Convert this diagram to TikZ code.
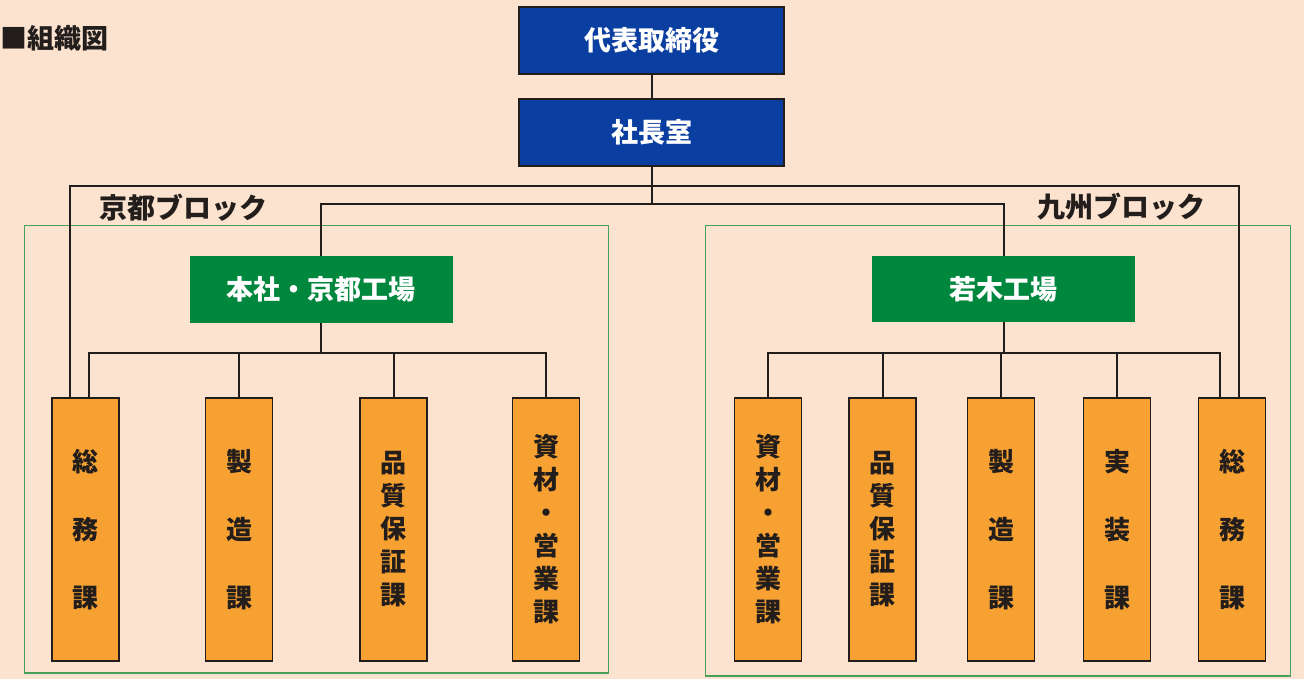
\documentclass[tikz,border=0pt]{standalone}
\usepackage{fontspec}
\newfontfamily\jp{Noto Sans CJK JP}
\definecolor{bgpeach}{RGB}{252,227,208}
\definecolor{boxblue}{RGB}{10,62,160}
\definecolor{boxgreen}{RGB}{0,135,62}
\definecolor{boxorange}{RGB}{247,161,50}
\definecolor{frameline}{RGB}{70,160,90}
\definecolor{ink}{RGB}{35,30,28}
\begin{document}
\begin{tikzpicture}[x=1pt,y=-1pt,
  bluebox/.style={draw=ink, line width=1.6pt, fill=boxblue, text=white, minimum width=265pt, minimum height=67pt, inner sep=0pt, font=\jp\bfseries\fontsize{27}{30}\selectfont},
  greenbox/.style={fill=boxgreen, text=white, minimum width=263pt, minimum height=66pt, inner sep=0pt, font=\jp\bfseries\fontsize{27}{30}\selectfont},
  orangebox/.style={draw=ink, line width=1.6pt, fill=boxorange, text=ink, minimum width=67pt, minimum height=263pt, inner sep=0pt, align=center, font=\jp\bfseries\fontsize{26}{33}\selectfont},
  blocklabel/.style={anchor=west, inner sep=0pt, text=ink, font=\jp\bfseries\fontsize{28}{30}\selectfont},
  conn/.style={draw=ink, line width=2pt},
  blockframe/.style={draw=frameline, line width=1.4pt}]
\fill[bgpeach] (0,0) rectangle (1304,679);
\useasboundingbox (0,0) rectangle (1304,679);

% block frames
\draw[blockframe] (24.5,225.5) rectangle (608.5,673);
\draw[blockframe] (705.5,225.5) rectangle (1290.5,676);

% title
\node[anchor=west, inner sep=0pt, text=ink, font=\jp\bfseries\fontsize{27}{30}\selectfont] (title) at (0,38.5) {■組織図};

% top boxes
\node[bluebox] (ceo) at (651.5,40.5) {代表取締役};
\node[bluebox] (pres) at (651.5,132.5) {社長室};

% factories
\node[greenbox] (kyoto) at (321,289.5) {本社・京都工場};
\node[greenbox] (wakagi) at (1003.5,289) {若木工場};

% block labels
\node[blocklabel] (kl) at (99,207.5) {京都ブロック};
\node[blocklabel] (ql) at (1037,207) {九州ブロック};

% sections Kyoto
\node[orangebox] (ks1) at (85.5,529.5) {総\\[35pt]務\\[35pt]課};
\node[orangebox] (ks2) at (239,529.5) {製\\[35pt]造\\[35pt]課};
\node[orangebox] (ks3) at (393.5,529.5) {品\\質\\保\\証\\課};
\node[orangebox] (ks4) at (546,529.5) {資\\材\\・\\営\\業\\課};

% sections Kyushu
\node[orangebox] (qs1) at (768,529.5) {資\\材\\・\\営\\業\\課};
\node[orangebox] (qs2) at (882.5,529.5) {品\\質\\保\\証\\課};
\node[orangebox] (qs3) at (1001,529.5) {製\\[35pt]造\\[35pt]課};
\node[orangebox] (qs4) at (1117,529.5) {実\\[35pt]装\\[35pt]課};
\node[orangebox] (qs5) at (1232,529.5) {総\\[35pt]務\\[35pt]課};

% junctions
\coordinate (j1) at (651.5,186);
\coordinate (j2) at (651.5,204.5);
\coordinate (kyb) at (321,353);
\coordinate (wab) at (1003.5,353);

% connectors
\draw[conn] (ceo) -- (pres);
\draw[conn] (pres.south) -- (j2);
\draw[conn] (kyoto.north) |- (j2) -| (wakagi.north);
\draw[conn] ([xshift=-15.5pt]ks1.north) |- (j1) -| ([xshift=7pt]qs5.north);
\draw[conn] (kyoto.south) -- (kyb);
\draw[conn] ([xshift=3pt]ks1.north) |- (kyb) -| (ks4.north);
\draw[conn] (ks2.north) -- (ks2.north |- kyb);
\draw[conn] (ks3.north) -- (ks3.north |- kyb);
\draw[conn] (wakagi.south) -- (wab);
\draw[conn] (qs1.north) |- (wab) -| ([xshift=-12.5pt]qs5.north);
\draw[conn] (qs2.north) -- (qs2.north |- wab);
\draw[conn] (qs3.north) -- (qs3.north |- wab);
\draw[conn] (qs4.north) -- (qs4.north |- wab);
\end{tikzpicture}
\end{document}
